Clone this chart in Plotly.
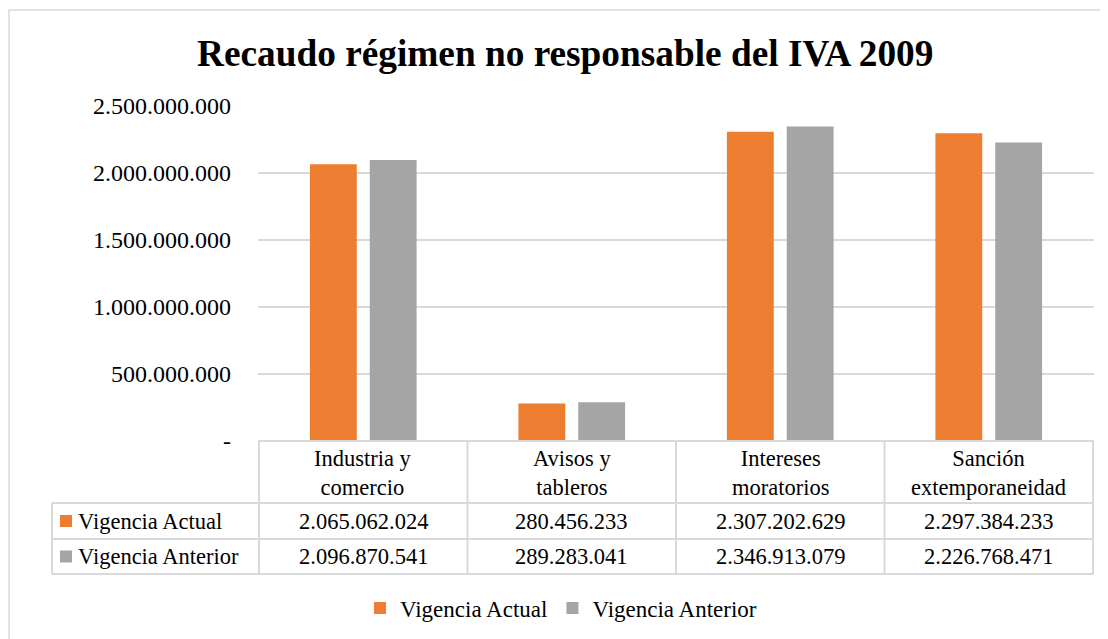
import plotly.graph_objects as go

title_text = "Recaudo régimen no responsable del IVA 2009"
categories = ["Industria y comercio", "Avisos y tableros", "Intereses moratorios", "Sanción extemporaneidad"]
header_labels = ["Industria y<br>comercio", "Avisos y<br>tableros", "Intereses<br>moratorios", "Sanción<br>extemporaneidad"]
series_names = ["Vigencia Actual", "Vigencia Anterior"]
vigencia_actual = [2065062024, 280456233, 2307202629, 2297384233]
vigencia_anterior = [2096870541, 289283041, 2346913079, 2226768471]
tick_values = [0, 500000000, 1000000000, 1500000000, 2000000000, 2500000000]
colors = ["#ED7D31", "#A5A5A5"]

def fmt(v):
    if v == 0:
        return "-"
    return f"{v:,}".replace(",", ".")

FONT = "Liberation Serif, Times New Roman, serif"
GRID = "#D9D9D9"
TXT = "#000000"

OFF = 8  # page body margin
W, H = 1108 - OFF, 639 - OFF
PL, PR, PT, PB = 258, 1094, 106, 441  # plot area in page pixels
L, R, T, B = PL - OFF, W - (PR - OFF), PT - OFF, H - (PB - OFF)
PW, PH = PR - PL, PB - PT

def px(x):
    return (x - PL) / PW

def py(y):
    return (PB - y) / PH

fig = go.Figure()
for name, vals, col in zip(series_names, [vigencia_actual, vigencia_anterior], colors):
    fig.add_trace(go.Bar(x=categories, y=vals, name=name, marker=dict(color=col, line=dict(width=0))))

shapes = []
line = dict(color=GRID, width=2)
# outer chart border
shapes.append(dict(type="rect", xref="paper", yref="paper", x0=px(9), x1=px(1130), y0=py(10), y1=py(660),
                   line=dict(color=GRID, width=1.5), layer="below"))
# table top line (axis)
shapes.append(dict(type="line", xref="paper", yref="paper", x0=0, x1=1, y0=0, y1=0, line=line))
# horizontal rows
for yy in [503, 539, 574]:
    shapes.append(dict(type="line", xref="paper", yref="paper", x0=px(52), x1=1, y0=py(yy), y1=py(yy), line=line))
# vertical category boundaries
for i in range(len(categories) + 1):
    shapes.append(dict(type="line", xref="x", yref="paper", x0=i - 0.5, x1=i - 0.5, y0=0, y1=py(574), line=line))
# left legend column border
shapes.append(dict(type="line", xref="paper", yref="paper", x0=px(52), x1=px(52), y0=py(503), y1=py(574), line=line))

annotations = []
annotations.append(dict(text="<b>" + title_text + "</b>", xref="paper", yref="paper", x=px(564.5), y=py(53),
                        xanchor="center", yanchor="middle", showarrow=False,
                        font=dict(family=FONT, size=37.3, color=TXT)))
for cat, lab in zip(categories, header_labels):
    annotations.append(dict(text=lab, xref="x", yref="paper", x=cat, y=py(473), xanchor="center", yanchor="middle",
                            showarrow=False, font=dict(family=FONT, size=22.5, color=TXT)))
row_centers = [521, 556.5]
for name, vals, col, yc in zip(series_names, [vigencia_actual, vigencia_anterior], colors, row_centers):
    shapes.append(dict(type="rect", xref="paper", yref="paper", x0=px(60), x1=px(72), y0=py(yc - 6), y1=py(yc + 6),
                       fillcolor=col, line=dict(width=0)))
    annotations.append(dict(text=name, xref="paper", yref="paper", x=px(76), y=py(yc), xanchor="left", yanchor="middle",
                            showarrow=False, font=dict(family=FONT, size=22.5, color=TXT)))
    for cat, v in zip(categories, vals):
        annotations.append(dict(text=fmt(v), xref="x", yref="paper", x=cat, y=py(yc), xanchor="center",
                                yanchor="middle", showarrow=False, font=dict(family=FONT, size=22.5, color=TXT)))

fig.update_layout(
    width=W, height=H,
    margin=dict(l=L, r=R, t=T, b=B, autoexpand=False),
    paper_bgcolor="white", plot_bgcolor="white",
    barmode="group", bargap=0.426, bargroupgap=0.217,
    font=dict(family=FONT, size=22.5, color=TXT),
    showlegend=True,
    legend=dict(orientation="h", xref="container", x=(561 - OFF) / W, xanchor="center", y=py(608), yanchor="middle",
                font=dict(family=FONT, size=23, color=TXT), bgcolor="rgba(0,0,0,0)"),
    shapes=shapes, annotations=annotations,
)
fig.update_xaxes(showticklabels=False, showgrid=False, showline=False, zeroline=False, ticks="")
fig.update_yaxes(range=[0, 2500000000], tickvals=tick_values, ticktext=[fmt(v) for v in tick_values],
                 showgrid=True, gridcolor=GRID, gridwidth=1.5, zeroline=False, showline=False,
                 ticks="", ticklabelstandoff=26, tickfont=dict(family=FONT, size=24, color=TXT))

fig.write_html("out.html")
